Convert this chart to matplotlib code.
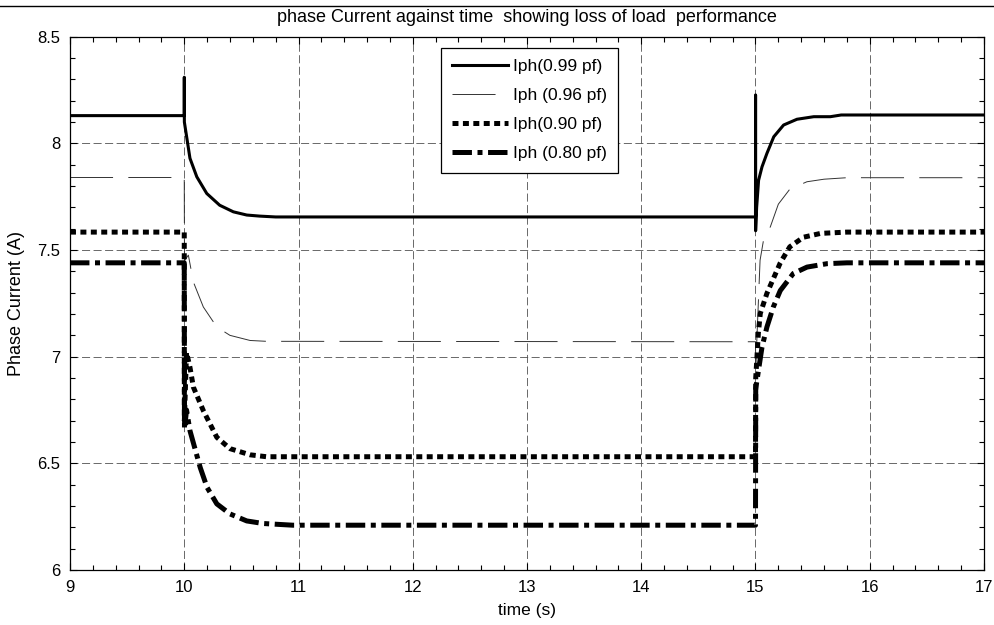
#!/usr/bin/env python
# -*- coding: utf-8 -*-
"""
Phase current vs time, loss of load at t=10 s and reconnection at t=15 s
"""

import matplotlib
matplotlib.use('Agg')
import matplotlib.pyplot as plt
from matplotlib.lines import Line2D
from matplotlib.ticker import MultipleLocator, AutoMinorLocator

plt.rcParams['font.family'] = ['Liberation Sans', 'DejaVu Sans']
plt.rcParams['lines.scale_dashes'] = False

# --- data (time in s, current in A) ---
labels = ['Iph(0.99 pf)', 'Iph (0.96 pf)', 'Iph(0.90 pf)', 'Iph (0.80 pf)']

t_99 = [9, 10.0, 10.0005, 10.001, 10.016, 10.05, 10.11, 10.197, 10.31, 10.43, 10.547,
        10.66, 10.8, 15.0, 15.0005, 15.001, 15.01, 15.027, 15.057, 15.10, 15.16, 15.246,
        15.363, 15.51, 15.655, 15.75, 17]
i_99 = [8.13, 8.13, 8.31, 8.10, 8.048, 7.93, 7.843, 7.765, 7.71, 7.679, 7.664,
        7.659, 7.655, 7.655, 8.227, 7.59, 7.70, 7.827, 7.89, 7.953, 8.031, 8.086,
        8.113, 8.125, 8.125, 8.133, 8.133]

t_96 = [9, 10.0, 10.002, 10.036, 10.08, 10.12, 10.167, 10.285, 10.40, 10.576, 10.72,
        15.0, 15.002, 15.04, 15.07, 15.13, 15.2, 15.30, 15.45, 15.60, 15.8, 17]
i_96 = [7.84, 7.84, 7.45, 7.476, 7.35, 7.296, 7.233, 7.139, 7.10, 7.076, 7.072,
        7.07, 6.95, 7.452, 7.546, 7.609, 7.715, 7.785, 7.82, 7.832, 7.839, 7.839]

t_90 = [9, 10.0, 10.001, 10.02, 10.05, 10.08, 10.167, 10.285, 10.40, 10.576, 10.72,
        15.0, 15.002, 15.025, 15.042, 15.10, 15.217, 15.30, 15.42, 15.57, 15.80, 17]
i_90 = [7.584, 7.584, 6.70, 7.02, 6.95, 6.857, 6.747, 6.622, 6.569, 6.54, 6.531,
        6.531, 6.90, 7.11, 7.203, 7.297, 7.44, 7.515, 7.56, 7.578, 7.584, 7.584]

t_80 = [9, 10.0, 10.002, 10.02, 10.05, 10.14, 10.2, 10.285, 10.40, 10.547, 10.69,
        10.95, 15.0, 15.002, 15.057, 15.10, 15.156, 15.217, 15.331, 15.451, 15.626,
        15.8, 17]
i_80 = [7.44, 7.44, 6.66, 6.75, 6.653, 6.48, 6.387, 6.31, 6.263, 6.23, 6.218,
        6.21, 6.21, 6.85, 7.045, 7.139, 7.233, 7.31, 7.39, 7.42, 7.436,
        7.44, 7.44]

TITLE = 'phase Current against time  showing loss of load  performance'

fig = plt.figure(figsize=(9.95, 6.25), dpi=100, facecolor='white')
ax = fig.add_axes([70 / 995, 1 - 570 / 625, 914 / 995, 533.3 / 625])

# line styles (dash lengths in points)
ax.plot(t_99, i_99, color='black', lw=2.2, label=labels[0])
ax.plot(t_96, i_96, color='#333333', lw=0.7, linestyle=(0, (31, 11)), label=labels[1])
ax.plot(t_90, i_90, color='black', lw=3.6, linestyle=(0, (4.3, 3.2)),
        dash_capstyle='butt', label=labels[2])
ax.plot(t_80, i_80, color='black', lw=3.6, linestyle=(0, (14, 4, 3.6, 4)),
        dash_capstyle='butt', label=labels[3])

ax.set_xlim(9, 17)
ax.set_ylim(6, 8.5)
ax.xaxis.set_major_locator(MultipleLocator(1))
ax.yaxis.set_major_locator(MultipleLocator(0.5))
ax.xaxis.set_minor_locator(AutoMinorLocator(5))
ax.yaxis.set_minor_locator(AutoMinorLocator(5))
ax.tick_params(which='both', direction='in', top=True, right=True,
               labelsize=12, colors='black', width=0.8)
ax.tick_params(which='major', length=5, pad=7)
ax.tick_params(which='minor', length=3.5)
ax.yaxis.set_major_formatter(plt.FuncFormatter(lambda v, p: f'{v:g}'))
for spine in ax.spines.values():
    spine.set_linewidth(0.9)
    spine.set_color('black')

ax.grid(True, which='major', color='#505050', linestyle=(0, (5.8, 2.5)), lw=0.6)

ax.set_xlabel('time (s)', fontsize=12.5, labelpad=6)
ax.set_ylabel('Phase Current (A)', fontsize=13, labelpad=9)

leg = ax.legend(loc='upper left', bbox_to_anchor=(0.406, 0.979), fontsize=12.5,
                frameon=True, fancybox=False, edgecolor='black', framealpha=1,
                handlelength=3.2, handletextpad=0.3, labelspacing=0.8,
                borderpad=0.65, borderaxespad=0)
leg.get_frame().set_linewidth(0.9)

# title and the rule across the top of the figure
fig.text(0.53, 1 - 17 / 625, TITLE, ha='center', va='center', fontsize=13)
fig.add_artist(Line2D([0, 1], [1 - 6 / 625] * 2, transform=fig.transFigure,
                      color='black', lw=1))

fig.savefig('out.png', dpi=100, facecolor='white')
plt.close(fig)
